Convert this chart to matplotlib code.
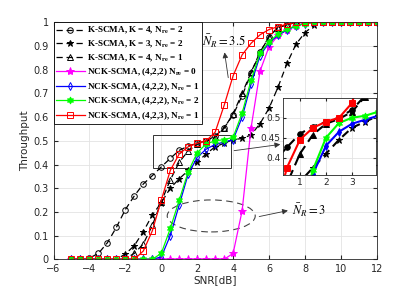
#!/usr/bin/env python3
"""Throughput vs SNR for K-SCMA / NCK-SCMA, with a zoomed inset."""

import matplotlib
matplotlib.use("Agg")
import matplotlib.pyplot as plt
from matplotlib.patches import Rectangle, Ellipse

snr = [-5 + 0.5 * i for i in range(35)]

# K-SCMA, K = 4, Nre = 2
k4_nre2 = [0, 0, 0.005, 0.025, 0.07, 0.135, 0.21, 0.268, 0.318, 0.353, 0.39, 0.426,
           0.46, 0.478, 0.49, 0.5, 0.52, 0.555, 0.61, 0.69, 0.786, 0.873, 0.94, 0.98,
           0.99, 1, 1, 1, 1, 1, 1, 1, 1, 1, 1]
# K-SCMA, K = 3, Nre = 2
k3_nre2 = [0, 0, 0, 0, 0, 0, 0.022, 0.058, 0.117, 0.187, 0.239, 0.3, 0.34, 0.375,
           0.41, 0.445, 0.475, 0.49, 0.505, 0.51, 0.525, 0.573, 0.638, 0.727, 0.827,
           0.908, 0.957, 0.988, 1, 1, 1, 1, 1, 1, 1]
# K-SCMA, K = 4, Nre = 1
k4_nre1 = [0, 0, 0, 0, 0, 0, 0.003, 0.025, 0.065, 0.143, 0.243, 0.335, 0.41, 0.458,
           0.485, 0.497, 0.515, 0.553, 0.615, 0.7, 0.79, 0.875, 0.94, 0.978, 0.99,
           1, 1, 1, 1, 1, 1, 1, 1, 1, 1]
# NCK-SCMA (4,2,2), Nre = 0
nck_nre0 = [0, 0, 0, 0, 0, 0, 0, 0, 0, 0, 0, 0, 0, 0, 0, 0, 0, 0, 0.025, 0.205,
            0.556, 0.795, 0.898, 0.945, 0.97, 0.985, 1, 1, 1, 1, 1, 1, 1, 1, 1]
# NCK-SCMA (4,2,2), Nre = 1
nck_nre1 = [0, 0, 0, 0, 0, 0, 0, 0, 0, 0, 0.01, 0.1, 0.23, 0.36, 0.43, 0.465, 0.485,
            0.495, 0.505, 0.6, 0.74, 0.86, 0.915, 0.945, 0.968, 0.985, 0.995, 1, 1,
            1, 1, 1, 1, 1, 1]
# NCK-SCMA (4,2,2), Nre = 2
nck_nre2 = [0, 0, 0, 0, 0, 0, 0, 0, 0, 0, 0.025, 0.13, 0.25, 0.37, 0.45, 0.487, 0.5,
            0.505, 0.515, 0.617, 0.757, 0.87, 0.919, 0.95, 0.972, 0.986, 0.995, 1, 1,
            1, 1, 1, 1, 1, 1]
# NCK-SCMA (4,2,3), Nre = 1
nck423_nre1 = [0, 0, 0, 0, 0, 0, 0, 0, 0.035, 0.12, 0.25, 0.375, 0.445, 0.475, 0.49,
               0.5, 0.537, 0.65, 0.775, 0.863, 0.912, 0.948, 0.97, 0.982, 0.993, 1,
               1, 1, 1, 1, 1, 1, 1, 1, 1]

series = [
    (k4_nre2, r"K-SCMA, K = 4, N$_{\mathbf{re}}$ = 2", "k", "--", "o", "none", 4),
    (k3_nre2, r"K-SCMA, K = 3, N$_{\mathbf{re}}$ = 2", "k", "--", "*", "k", 4.5),
    (k4_nre1, r"K-SCMA, K = 4, N$_{\mathbf{re}}$ = 1", "k", "--", "^", "none", 4),
    (nck_nre0, r"NCK-SCMA, (4,2,2) N$_{\mathbf{re}}$ = 0", "magenta", "-", "*", "magenta", 6),
    (nck_nre1, r"NCK-SCMA, (4,2,2), N$_{\mathbf{re}}$ = 1", "blue", "-", "d", "none", 4),
    (nck_nre2, r"NCK-SCMA, (4,2,2), N$_{\mathbf{re}}$ = 2", "lime", "-", (6, 1, 0), "lime", 5),
    (nck423_nre1, r"NCK-SCMA, (4,2,3), N$_{\mathbf{re}}$ = 1", "red", "-", "s", "none", 3.8),
]

plt.rcParams["font.family"] = ["DejaVu Sans"]
plt.rcParams["mathtext.fontset"] = "stix"

fig = plt.figure(figsize=(4.15, 2.91), dpi=100)
ax = fig.add_axes([0.129, 0.109, 0.779, 0.814])

for ys, lab, col, ls, mk, mfc, ms in series:
    ax.plot(snr, ys, color=col, ls=ls, lw=0.9, marker=mk, mfc=mfc, mec=col,
            ms=ms, mew=0.7, label=lab, dashes=(5, 3) if ls == "--" else (None, None))

ax.set_xlim(-6, 12)
ax.set_ylim(0, 1)
ax.set_xticks(range(-6, 13, 2))
ax.set_yticks([i / 10 for i in range(11)])
ax.set_yticklabels(["0", "0.1", "0.2", "0.3", "0.4", "0.5", "0.6", "0.7", "0.8", "0.9", "1"])
ax.grid(True, color="#e3e3e3", lw=0.6)
ax.set_axisbelow(True)
ax.tick_params(direction="in", labelsize=7, colors="#262626", length=3, top=True, right=True)
for s in ax.spines.values():
    s.set_color("#262626")
    s.set_linewidth(0.6)
ax.set_xlabel("SNR[dB]", fontsize=7.5, color="#262626", labelpad=1)
ax.set_ylabel("Throughput", fontsize=7.5, color="#262626", labelpad=2)

leg = ax.legend(loc="upper left", borderaxespad=0, fancybox=False, framealpha=1,
                edgecolor="k", handlelength=3.1, handletextpad=0.2, labelspacing=0.3,
                borderpad=0.3, prop={"family": "Liberation Serif", "weight": "bold", "size": 6.6})
leg.get_frame().set_linewidth(0.6)

# zoom rectangle, ellipse and annotations
ax.add_patch(Rectangle((-0.45, 0.385), 4.35, 0.14, fill=False, ec="#333333", lw=0.7))
ax.add_patch(Ellipse((2.78, 0.183), 4.9, 0.135, fill=False, ec="#444444", lw=0.8, ls=(0, (6, 4))))
ax.annotate("", xy=(7.2, 0.208), xytext=(5.3, 0.178),
            arrowprops=dict(arrowstyle="-|>", color="#333333", lw=0.6, mutation_scale=8))
ax.text(7.3, 0.205, r"$\bar{N}_R = 3$", fontsize=9, va="center", ha="left")
ax.annotate("", xy=(3.5, 0.885), xytext=(3.75, 0.755),
            arrowprops=dict(arrowstyle="-|>", color="#333333", lw=0.6, mutation_scale=8))
ax.text(3.5, 0.92, r"$\bar{N}_R = 3.5$", fontsize=9, va="center", ha="center")

# inset
ins = fig.add_axes([0.682, 0.399, 0.224, 0.265])
for ys, lab, col, ls, mk, mfc, ms in series:
    ins.plot(snr, ys, color=col, ls=ls, lw=1.5, marker=mk, mfc=col, mec=col,
             ms=ms, mew=0.7, dashes=(4, 2.5) if ls == "--" else (None, None))
ins.set_xlim(0.35, 3.92)
ins.set_ylim(0.357, 0.55)
ins.set_xticks([1, 2, 3])
ins.set_yticks([0.4, 0.45, 0.5])
ins.set_yticklabels(["0.4", "0.45", "0.5"])
ins.grid(True, color="#e3e3e3", lw=0.6)
ins.set_axisbelow(True)
ins.tick_params(direction="in", labelsize=6.5, colors="#262626", length=2, pad=2,
                top=True, right=True)
for s in ins.spines.values():
    s.set_color("#262626")
    s.set_linewidth(0.6)

ax.annotate("", xy=(0.0, 0.4), xycoords=ins.transAxes, xytext=(3.9, 0.457),
            textcoords="data",
            arrowprops=dict(arrowstyle="-|>", color="#333333", lw=0.6, mutation_scale=8))

fig.savefig("out.png", dpi=100)
